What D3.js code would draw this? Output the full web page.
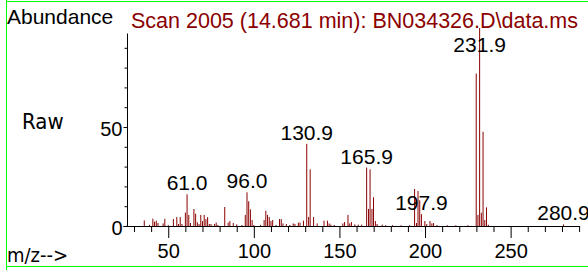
<!DOCTYPE html>
<html>
<head>
<meta charset="utf-8">
<script src="https://cdn.jsdelivr.net/npm/d3@7"></script>
<style>
  body { margin: 0; background: #fff; }
  svg { display: block; }
</style>
</head>
<body>
<div id="chart"></div>
<script>
// m/z of each peak and its relative abundance (%)
var peakMz = [36, 39, 41, 42, 43, 44, 47, 48, 50, 53, 55, 56, 57, 58, 60, 61, 62, 63, 65, 66,
  67, 68, 69, 70, 71, 72, 73, 74, 75, 77, 78, 79, 83, 85, 86, 88, 90, 93, 95, 96,
  97, 98, 99, 100, 104, 106, 107, 108, 109, 110, 111, 113, 115, 116, 117, 119, 121, 123, 124, 126,
  127, 129, 130.9, 132, 132.9, 134.9, 137, 141, 143, 144, 145, 147, 152, 153, 155, 156, 157, 159, 161, 163,
  165.9, 167, 167.9, 169, 169.9, 171, 172, 175, 177, 181, 186, 191, 193.9, 195, 195.9, 196.9, 197.9, 199.9, 201, 202.9,
  204, 205, 207, 213, 218, 225, 229.9, 230.9, 231.9, 232.9, 233.9, 234.9, 235.9, 237, 280.9];
var peakAbund = [2.8, 0.6, 3.7, 2.2, 2.7, 1.5, 1.3, 3.6, 0.5, 3.5, 4.5, 1.0, 4.5, 1.0, 6.8, 16.0, 5.6, 1.5, 8.6, 6.2,
  1.9, 1.0, 5.6, 2.5, 5.6, 3.5, 4.5, 1.0, 1.0, 1.0, 1.7, 0.5, 9.6, 1.7, 2.5, 1.5, 0.8, 0.5, 5.6, 17.0,
  12.5, 8.4, 3.0, 0.5, 0.6, 3.0, 7.7, 5.6, 4.5, 2.5, 3.0, 0.5, 3.5, 3.5, 1.3, 1.0, 0.5, 1.3, 1.0, 1.7,
  1.7, 2.7, 41.5, 4.5, 28.6, 4.5, 1.3, 2.7, 2.7, 1.3, 0.7, 0.5, 1.3, 2.0, 5.6, 1.3, 2.0, 0.8, 0.7, 0.7,
  29.5, 8.6, 28.6, 8.6, 14.5, 2.5, 1.0, 0.7, 0.4, 0.4, 0.4, 0.4, 18.7, 1.5, 17.7, 13.0, 6.0, 2.5, 1.0, 2.5,
  1.3, 1.5, 0.5, 0.4, 0.4, 0.4, 77.0, 5.6, 100, 6.7, 47.6, 3.0, 9.4, 0.6, 0.8];

// labelled peaks
var labelMz = [61.0, 96.0, 130.9, 165.9, 197.9, 231.9, 280.9];

var xMajorTicks = [50, 100, 150, 200, 250];
var xMinorTicks = d3.range(30, 291, 10).filter(function(d) { return d % 50 !== 0; });
var yMajorTicks = [0, 50];
var yMinorTicks = [10, 20, 30, 40, 60, 70, 80, 90];

var title = "Scan 2005 (14.681 min): BN034326.D\\data.ms";

var width = 588, height = 270;
var sans = "'Liberation Sans', Arial, sans-serif";
var narrow = "'DejaVu Sans Condensed', 'DejaVu Sans', sans-serif";
var dark = "#8b0000";

var svg = d3.select("#chart").append("svg")
  .attr("width", width)
  .attr("height", height);

svg.append("rect").attr("width", width).attr("height", height).attr("fill", "#fff");

// green frame
var frame = svg.append("g").attr("stroke", "#00ff00").attr("stroke-width", 1);
frame.append("line").attr("x1", 6.5).attr("x2", 6.5).attr("y1", 0).attr("y2", height);
frame.append("line").attr("x1", 6).attr("x2", width).attr("y1", 1.5).attr("y2", 1.5);
frame.append("line").attr("x1", 6).attr("x2", width).attr("y1", 266.5).attr("y2", 266.5);

var x = d3.scaleLinear().domain([26.2, 290]).range([127.5, 579.1]);
var y = d3.scaleLinear().domain([0, 100]).range([226, 28]);

var peaks = peakMz.map(function(m, i) { return { mz: m, ab: peakAbund[i] }; });

// peaks
svg.append("g").selectAll("line")
  .data(peaks)
  .join("line")
  .attr("x1", function(d) { return x(d.mz); })
  .attr("x2", function(d) { return x(d.mz); })
  .attr("y1", y(0) + 0.5)
  .attr("y2", function(d) { return y(d.ab); })
  .attr("stroke", dark)
  .attr("stroke-width", 1);

// x axis
var xAxisG = svg.append("g").attr("transform", "translate(0," + y(0) + ")");
xAxisG.append("g")
  .call(d3.axisBottom(x).tickValues(xMinorTicks).tickSize(6).tickSizeOuter(0).tickFormat(""))
  .call(function(g) { g.select(".domain").remove(); });
xAxisG.append("g")
  .call(d3.axisBottom(x).tickValues(xMajorTicks).tickSize(12).tickSizeOuter(0).tickFormat(d3.format("d")))
  .call(function(g) { g.select(".domain").remove(); })
  .call(function(g) {
    g.selectAll("text").attr("y", 32).attr("dy", null)
      .attr("font-family", sans).attr("font-size", 20).attr("fill", "#000");
  });

// y axis
var yAxisG = svg.append("g").attr("transform", "translate(" + x.range()[0] + ",0)");
yAxisG.append("g")
  .call(d3.axisLeft(y).tickValues(yMinorTicks).tickSize(3).tickSizeOuter(0).tickFormat(""))
  .call(function(g) { g.select(".domain").remove(); });
yAxisG.append("g")
  .call(d3.axisLeft(y).tickValues(yMajorTicks).tickSize(4).tickPadding(1).tickSizeOuter(0).tickFormat(d3.format("d")))
  .call(function(g) { g.select(".domain").remove(); })
  .call(function(g) {
    g.selectAll("text").attr("dy", "0.42em")
      .attr("font-family", sans).attr("font-size", 20).attr("fill", "#000");
  });

// axis lines
svg.append("line")
  .attr("x1", x.range()[0]).attr("x2", x.range()[0])
  .attr("y1", y(0) + 0.5).attr("y2", 33.5)
  .attr("stroke", "#000");
svg.append("line")
  .attr("x1", x.range()[0] - 4).attr("x2", x(290) + 0.5)
  .attr("y1", y(0) + 0.5).attr("y2", y(0) + 0.5)
  .attr("stroke", "#000");

// peak labels
svg.append("g").selectAll("text")
  .data(labelMz)
  .join("text")
  .attr("x", function(m) { return x(m); })
  .attr("y", function(m) {
    var p = peaks.find(function(d) { return Math.abs(d.mz - m) < 0.3; });
    return Math.max(52, y(p ? p.ab : 0) - 4);
  })
  .attr("text-anchor", "middle")
  .attr("font-family", sans)
  .attr("font-size", 21)
  .attr("fill", "#000")
  .text(function(m) { return m.toFixed(1); });

// header texts
svg.append("text")
  .attr("x", 7).attr("y", 24)
  .attr("font-family", sans).attr("font-size", 21)
  .text("Abundance");
svg.append("text")
  .attr("x", 131).attr("y", 28)
  .attr("font-family", sans).attr("font-size", 21.5)
  .attr("fill", dark)
  .text(title);
svg.append("text")
  .attr("x", 22).attr("y", 129)
  .attr("font-family", narrow).attr("font-size", 22)
  .text("Raw");
svg.append("text")
  .attr("x", 7).attr("y", 262)
  .attr("font-family", narrow).attr("font-size", 20)
  .text("m/z-->");
</script>
</body>
</html>
